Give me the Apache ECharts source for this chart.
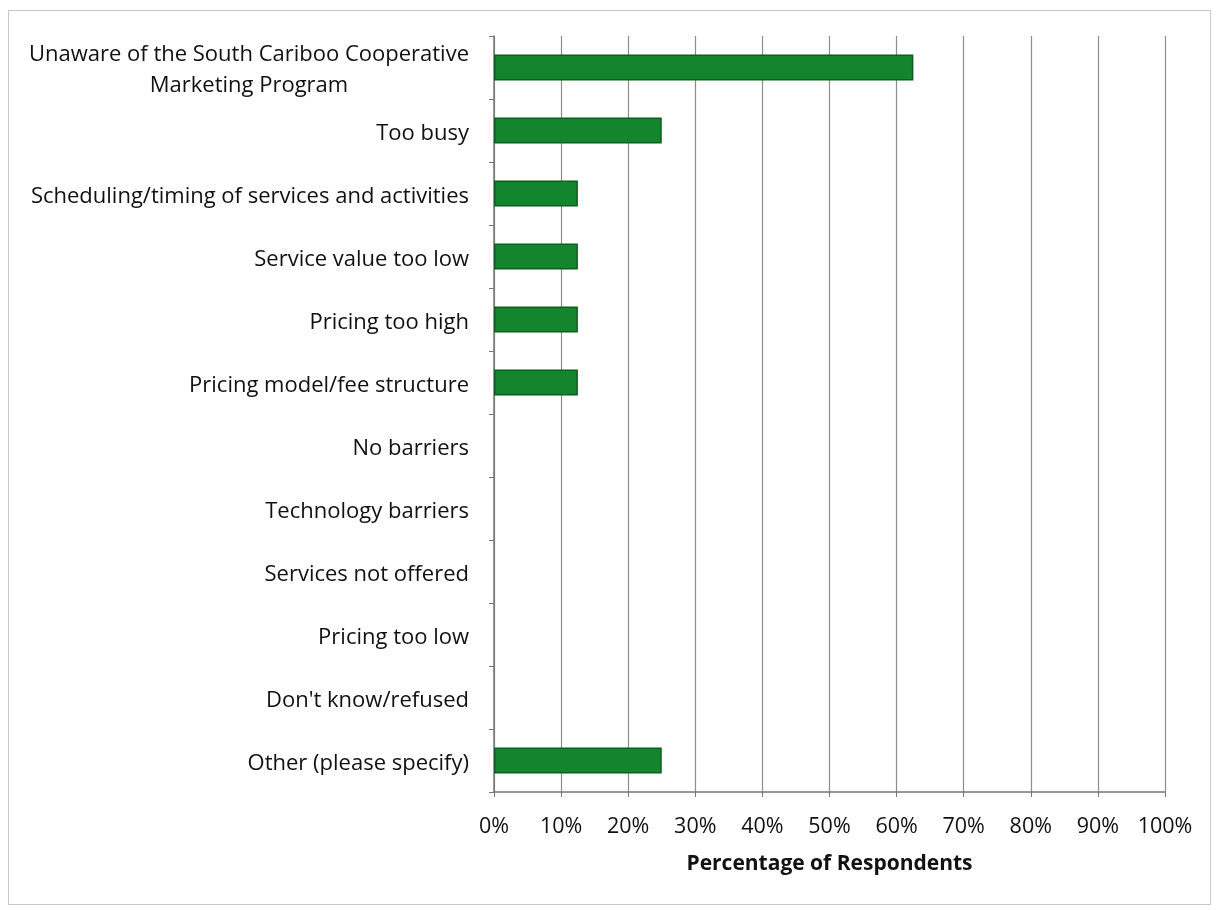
<!DOCTYPE html>
<html>
<head>
<meta charset="utf-8">
<script src="https://cdn.jsdelivr.net/npm/echarts@6/dist/echarts.min.js"></script>
<style>
  html, body { margin: 0; padding: 0; background: #fff; }
  #frame { position: absolute; left: 8px; top: 10px; width: 1203px; height: 895px; border: 1px solid #c8c8c8; box-sizing: border-box; }
  #chart { position: absolute; left: 0; top: 0; width: 1219px; height: 910px; }
</style>
</head>
<body>
<div id="frame"></div>
<div id="chart"></div>
<script>
// Barriers to participation, share of respondents (%)
const categories = [
  "Unaware of the South Cariboo Cooperative\nMarketing Program",
  "Too busy",
  "Scheduling/timing of services and activities",
  "Service value too low",
  "Pricing too high",
  "Pricing model/fee structure",
  "No barriers",
  "Technology barriers",
  "Services not offered",
  "Pricing too low",
  "Don't know/refused",
  "Other (please specify)"
];
const percentages = [62.5, 25, 12.5, 12.5, 12.5, 12.5, 0, 0, 0, 0, 0, 25];
const xTicks = [0, 10, 20, 30, 40, 50, 60, 70, 80, 90, 100];

const FONT = "'Open Sans', 'Noto Sans', sans-serif";
const FS_Y = 22;
const FS_X = 21.5;
const chart = echarts.init(document.getElementById('chart'), null, { renderer: 'canvas' });

// zero-valued bars get no outline so nothing shows on the axis
const barData = percentages.map(function (v) {
  return v === 0 ? { value: v, itemStyle: { borderWidth: 0 } } : v;
});

// two-line labels are centred on their widest line
function blockWidth(text) {
  return Math.max.apply(null, text.split('\n').map(function (s) {
    return echarts.format.getTextRect ? echarts.format.getTextRect(s, FS_Y + 'px ' + FONT).width : 444;
  }));
}

chart.setOption({
  animation: false,
  backgroundColor: 'transparent',
  grid: { left: 494, right: 54, top: 36, bottom: 118, containLabel: false },
  xAxis: {
    type: 'value',
    min: xTicks[0],
    max: xTicks[xTicks.length - 1],
    interval: 10,
    name: 'Percentage of Respondents',
    nameLocation: 'middle',
    nameGap: 62,
    nameTextStyle: { fontFamily: FONT, fontSize: 21, fontWeight: 'bold', color: '#111' },
    axisLine: { show: true, lineStyle: { color: '#777', width: 1.5 } },
    axisTick: { show: true, length: 5, lineStyle: { color: '#777' } },
    axisLabel: { formatter: '{value}%', margin: 24, fontFamily: FONT, fontSize: FS_X, color: '#111' },
    splitLine: { show: true, lineStyle: { color: '#8c8c8c', width: 1.2 } }
  },
  yAxis: {
    type: 'category',
    data: categories,
    inverse: true,
    axisLine: { show: true, lineStyle: { color: '#777', width: 1.5 } },
    axisTick: { show: true, length: 5, lineStyle: { color: '#777' } },
    axisLabel: {
      margin: 25,
      padding: [6, 0, 0, 0],
      fontFamily: FONT,
      fontSize: FS_Y,
      color: '#111',
      lineHeight: 31,
      formatter: function (v) {
        if (v.indexOf('\n') < 0) return v;
        return v.split('\n').map(function (s) { return '{c|' + s + '}'; }).join('\n');
      },
      rich: { c: { width: blockWidth(categories[0]), align: 'center', fontFamily: FONT, fontSize: FS_Y, color: '#111', lineHeight: 31 } }
    },
    splitLine: { show: false }
  },
  series: [{
    type: 'bar',
    data: barData,
    barWidth: 26,
    itemStyle: { color: '#13852f', borderColor: '#0c5f1f', borderWidth: 1.5 }
  }]
});
</script>
</body>
</html>
